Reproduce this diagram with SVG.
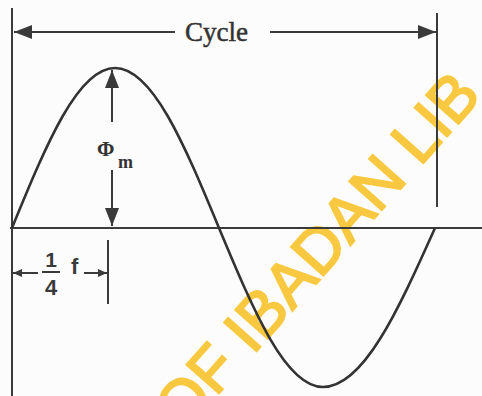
<svg xmlns="http://www.w3.org/2000/svg" width="482" height="396" viewBox="0 0 482 396">
<style>
.ln{stroke:#3a3a3a;stroke-width:2;fill:none}
.wave{stroke:#333;stroke-width:2.6;fill:none}
.lbl{font-family:"Liberation Serif","Times New Roman",serif;fill:#333}
.sans{font-family:"Liberation Sans",Arial,sans-serif;fill:#3a3a3a}
.wm{font-family:"Liberation Sans",Arial,sans-serif;font-size:63px;fill:#F8C840;stroke:#F8C840;stroke-width:2}
</style>
<defs>
<marker id="big" viewBox="0 0 18 14" markerWidth="18" markerHeight="14" refX="18" refY="7" orient="auto" markerUnits="userSpaceOnUse">
<path d="M0,0 L18,7 L0,14 z" fill="#3a3a3a"/>
</marker>
<marker id="small" viewBox="0 0 9 8" markerWidth="9" markerHeight="8" refX="9" refY="4" orient="auto" markerUnits="userSpaceOnUse">
<path d="M0,0 L9,4 L0,8 z" fill="#3a3a3a"/>
</marker>
</defs>
<rect width="482" height="396" fill="#fcfcfc"/>
<text id="watermark" class="wm" x="183" y="434" transform="rotate(-48.4 183 434)">OF IBADAN LIB</text>
<g id="axes">
<line class="ln" x1="12" y1="8" x2="12" y2="396"/>
<line class="ln" x1="437" y1="13" x2="437" y2="207"/>
<line class="ln" x1="10" y1="228" x2="482" y2="228" stroke-width="2.4"/>
<line class="ln" x1="108" y1="240" x2="108" y2="304"/>
</g>
<g id="wave">
<path class="wave" d="M12,228 C46.4,144 77.9,68 115,68 C152.4,68 184.2,144 219,228 C253.8,311.5 285.6,387 323,387 C363.3,387 397.6,311.5 435,228"/>
</g>
<g id="connectors">
<path class="ln" d="M175,32 L14,32" marker-end="url(#big)"/>
<path class="ln" d="M270,32 L436,32" marker-end="url(#big)"/>
<path class="ln" d="M112,122 L112,70" marker-end="url(#big)"/>
<path class="ln" d="M112,170 L112,226" marker-end="url(#big)"/>
<path class="ln" d="M38,273 L13,273" marker-end="url(#small)"/>
<path class="ln" d="M84,273 L107,273" marker-end="url(#small)"/>
</g>
<g id="cycle-label">
<text class="lbl" x="185" y="41" font-size="27" stroke="#333" stroke-width="0.5">Cycle</text>
</g>
<g id="phi-label">
<text class="lbl" x="97" y="156" font-size="21" font-weight="bold">Φ</text>
<text class="lbl" x="118" y="168" font-size="18" font-weight="bold">m</text>
</g>
<g id="quarter-label">
<text class="sans" x="51" y="267" font-size="21" text-anchor="middle" font-weight="bold">1</text>
<line class="ln" x1="42" y1="272" x2="60" y2="272"/>
<text class="sans" x="51" y="295" font-size="22" text-anchor="middle" font-weight="bold">4</text>
<text class="sans" x="71" y="274" font-size="22" font-weight="bold">f</text>
</g>
</svg>
